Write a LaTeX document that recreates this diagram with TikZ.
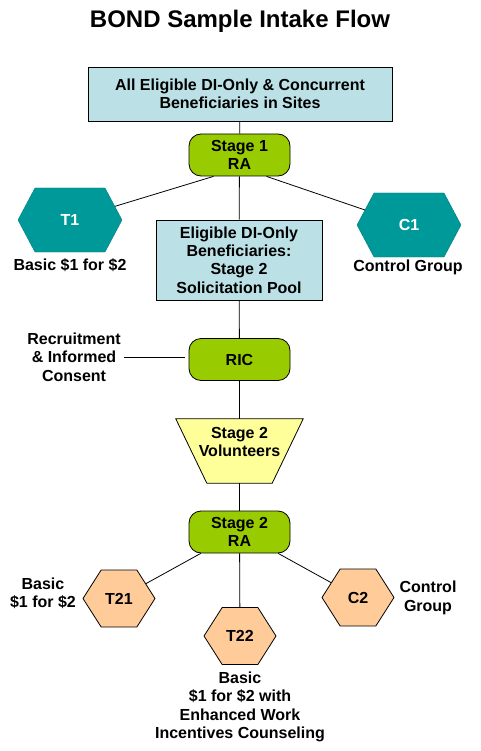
\documentclass[tikz,border=0pt]{standalone}
\usepackage{fontspec}
\setmainfont{Liberation Sans}
\usetikzlibrary{shapes.geometric,shapes.symbols}

\definecolor{poolblue}{HTML}{BBE1E6}
\definecolor{ragreen}{HTML}{99CC00}
\definecolor{hexteal}{HTML}{009999}
\definecolor{volyellow}{HTML}{FFFF99}
\definecolor{hexpeach}{HTML}{FFCC99}

\tikzset{
  every node/.style={font=\bfseries\fontsize{16}{18.4}\selectfont, align=center, inner sep=0pt},
  poolbox/.style={draw, fill=poolblue, line width=0.8pt},
  rabox/.style={draw, fill=ragreen, line width=0.8pt, rounded corners=12pt,
    minimum width=101pt, minimum height=42pt},
  tealhex/.style={signal, signal to=east and west, signal pointer angle=124,
    fill=hexteal, draw=hexteal!80!black, text=white, minimum width=104pt, minimum height=64pt},
  peachhex/.style={signal, signal to=east and west, signal pointer angle=115,
    fill=hexpeach, draw, line width=0.8pt, minimum width=72pt, minimum height=57pt},
  grouplabel/.style={outer sep=3pt},
  link/.style={line width=0.8pt}
}

\begin{document}
\begin{tikzpicture}[x=1pt, y=-1pt]
    \useasboundingbox (0,0) rectangle (481,751);

    \node[font=\bfseries\fontsize{24}{28}\selectfont, anchor=base] (title) at (240,28) {BOND Sample Intake Flow};

    % stage 1
    \node[poolbox, minimum width=304pt, minimum height=54pt] (all) at (240,94)
        {All Eligible DI-Only \& Concurrent\\Beneficiaries in Sites};
    \node[rabox] (ra1) at (239.5,155) {Stage 1\\RA};
    \node[tealhex] (t1) at (70,220) {T1};
    \node[tealhex] (c1) at (409,225) {C1};
    \node[grouplabel] (t1lab) at (70,265) {Basic \$1 for \$2};
    \node[grouplabel] (c1lab) at (408,267) {Control Group};

    % solicitation and consent
    \node[poolbox, minimum width=166pt, minimum height=80pt] (pool) at (239,260)
        {Eligible DI-Only\\Beneficiaries:\\Stage 2\\Solicitation Pool};
    \node[rabox] (ric) at (239.5,359.5) {RIC};
    \node[grouplabel] (riclab) at (74,357) {Recruitment\\\& Informed\\Consent};

    % volunteer funnel
    \node[minimum width=127pt, minimum height=64pt] (vol) at (239.5,451) {};
    \draw[fill=volyellow, line width=0.8pt] (vol.north west) -- (vol.north east)
        -- ([xshift=-31pt]vol.south east) -- ([xshift=31pt]vol.south west) -- cycle;
    \node (voltext) at (239.5,442) {Stage 2\\Volunteers};

    % stage 2
    \node[rabox] (ra2) at (239.5,532) {Stage 2\\RA};
    \node[peachhex] (t21) at (119,598.5) {T21};
    \node[peachhex] (t22) at (240,636) {T22};
    \node[peachhex] (c2) at (358,597.5) {C2};
    \node[grouplabel] (t21lab) at (43,593) {Basic\\\$1 for \$2};
    \node[grouplabel] (c2lab) at (428,598) {Control\\Group};
    \node[grouplabel] (t22lab) at (240,707) {Basic\\\$1 for \$2 with\\Enhanced Work\\Incentives Counseling};

    \draw[link] (all) -- (ra1);
    \draw[link] ([xshift=-26pt]ra1.south) -- (t1);
    \draw[link] ([xshift=27pt]ra1.south) -- (c1);
    \draw[link] (ra1) -- (pool);
    \draw[link] (pool) -- (ric);
    \draw[link, shorten >=4pt] (riclab.east) -- (riclab.east -| ric.west);
    \draw[link] (ric) -- (vol);
    \draw[link] (vol) -- (ra2);
    \draw[link] (ra2) -- (t21);
    \draw[link] (ra2) -- (t22);
    \draw[link] (ra2) -- (c2);

\end{tikzpicture}
\end{document}
